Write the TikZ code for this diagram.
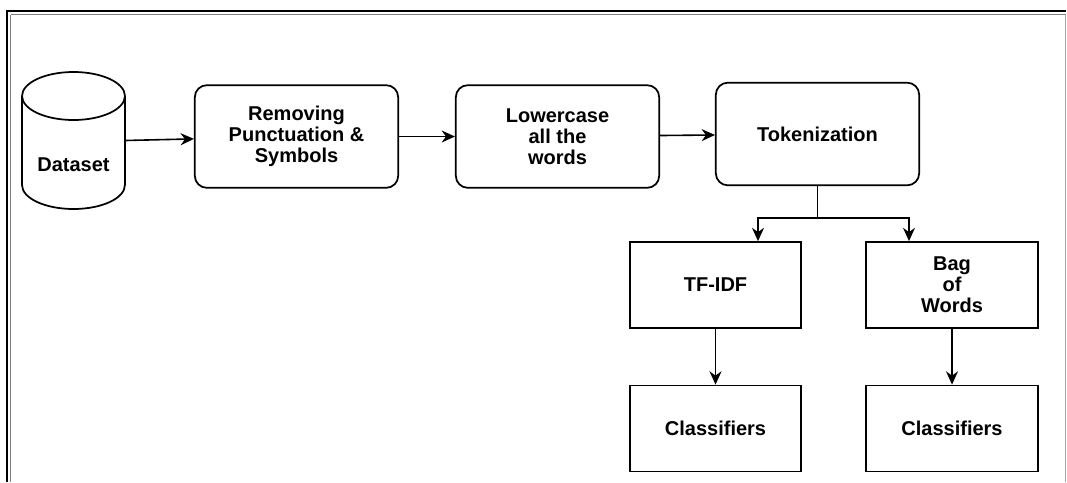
\documentclass[tikz,border=0pt]{standalone}
\usepackage{fontspec}
\setmainfont{Liberation Sans}
\usepackage{tikz}
\usetikzlibrary{arrows.meta, positioning, calc}

\begin{document}
\begin{tikzpicture}[x=0.75pt, y=-0.75pt, >={Stealth[length=10pt, width=9pt]},
    font=\fontsize{15}{15.8}\selectfont\bfseries,
    conn/.style={->, line width=1.2pt},
    procbox/.style={draw, line width=1.3pt, rounded corners=9pt, align=center,
      minimum width=152.5pt, minimum height=77pt, inner sep=0pt},
    featbox/.style={draw, line width=1.3pt, align=center,
      minimum width=128.5pt, minimum height=64.5pt, inner sep=0pt}
  ]
  \useasboundingbox (0,0) rectangle (1067,482);
  % page frame
  \draw[line width=2pt] (7,11) -- (1066,11);
  \draw[line width=1pt, gray] (10.5,14.5) -- (1066,14.5);
  \draw[line width=2pt] (7,10) -- (7,482);
  \draw[line width=1pt, gray] (10.5,14.5) -- (10.5,482);
  \draw[line width=0.6pt, gray!70] (1065,15) -- (1065,482);

  % dataset cylinder
  \node[minimum width=77pt, minimum height=103pt, inner sep=0pt] (data) at (73.5,140.5) {};
  \draw[line width=1.3pt] (22,96) -- (22,185) arc[start angle=180, end angle=360, x radius=38.6pt, y radius=18pt]
    -- (125,96);
  \draw[line width=1.3pt] (73.5,96) ellipse[x radius=38.6pt, y radius=18pt];
  \node (dsname) at (73.5,165) {Dataset};

  \node[procbox] (punct) at (296.5,136.5) {Removing\\Punctuation \&\\Symbols};
  \node[procbox] (lower) at (557.5,136.5) {Lowercase\\all the\\words};
  \node[procbox] (token) at (817.5,134) {Tokenization};

  \node[featbox] (tfidf) at (715.5,285) {TF-IDF};
  \node[featbox] (bow) at (952,285) {Bag\\of\\Words};
  \node[featbox] (clsa) at (715.5,428.5) {Classifiers};
  \node[featbox] (clsb) at (952,428.5) {Classifiers};

  \coordinate (jl) at (758,218);
  \coordinate (jr) at (909,218);

  \draw[conn] (data.east) -- (punct);
  \draw[conn] (punct) -- (lower);
  \draw[conn] (lower) -- (token);
  \draw[line width=1.2pt] (token.south) -- (token.south |- jl);
  \draw[conn] (token.south |- jl) -- (jl) -- (jl |- tfidf.north);
  \draw[conn] (token.south |- jl) -- (jr) -- (jr |- bow.north);
  \draw[conn] (tfidf) -- (clsa);
  \draw[conn] (bow) -- (clsb);
\end{tikzpicture}
\end{document}
